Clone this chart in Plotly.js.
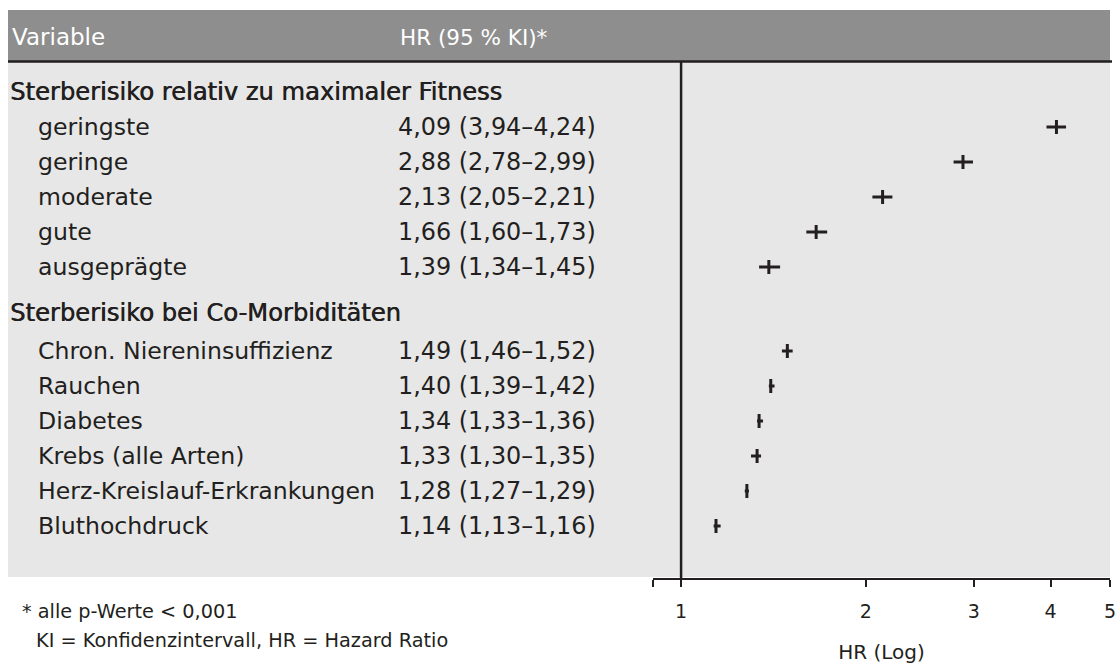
<!DOCTYPE html>
<html>
<head>
<meta charset="utf-8">
<script src="https://cdn.plot.ly/plotly-3.0.1.min.js"></script>
<style>html,body{margin:0;padding:0;background:#fff;}#chart{width:1119px;height:669px;}</style>
</head>
<body>
<div id="chart"></div>
<script>
// ---- data ----
var sectionTitles = ['Sterberisiko relativ zu maximaler Fitness', 'Sterberisiko bei Co-Morbiditäten'];
var fitnessLabels = ['geringste', 'geringe', 'moderate', 'gute', 'ausgeprägte'];
var fitnessHR     = [4.09, 2.88, 2.13, 1.66, 1.39];
var fitnessLow    = [3.94, 2.78, 2.05, 1.60, 1.34];
var fitnessHigh   = [4.24, 2.99, 2.21, 1.73, 1.45];
var comorbLabels  = ['Chron. Niereninsuffizienz', 'Rauchen', 'Diabetes', 'Krebs (alle Arten)', 'Herz-Kreislauf-Erkrankungen', 'Bluthochdruck'];
var comorbHR      = [1.49, 1.40, 1.34, 1.33, 1.28, 1.14];
var comorbLow     = [1.46, 1.39, 1.33, 1.30, 1.27, 1.13];
var comorbHigh    = [1.52, 1.42, 1.36, 1.35, 1.29, 1.16];
var tickValues    = [0.9, 1, 2, 3, 4, 5];
var tickLabels    = ['', '1', '2', '3', '4', '5'];
var headerCols    = ['Variable', 'HR (95 % KI)*'];
var footnotes     = ['* alle p-Werte < 0,001', 'KI = Konfidenzintervall, HR = Hazard Ratio'];
var axisTitle     = 'HR (Log)';

// ---- layout helpers ----
var W = 1119, H = 669;
var FONT = 'DejaVu Sans, sans-serif';
var INK = '#231f20';
function px(x){ return x / W; }
function py(y){ return 1 - y / H; }
var rowStep = 35, row0 = 92, plotTop = 62, plotBot = 578;
function fmt(v){ return v.toFixed(2).replace('.', ','); }

var sec1Row = 0;
var fitRows = fitnessLabels.map(function(_, i){ return 1 + i; });
var sec2Row = 6.3;
var comRows = comorbLabels.map(function(_, i){ return 7.4 + i; });

var traces = [];
function addGroup(hr, lo, hi, rows){
  traces.push({
    type: 'scatter', mode: 'markers',
    x: hr, y: rows,
    marker: {symbol: 'line-ns-open', size: 10, color: INK, line: {width: 3, color: INK}},
    error_x: {type: 'data', symmetric: false,
      array: hi.map(function(h, i){ return h - hr[i]; }),
      arrayminus: lo.map(function(l, i){ return hr[i] - l; }),
      width: 0, thickness: 3, color: INK},
    hoverinfo: 'skip', showlegend: false, cliponaxis: false
  });
}
addGroup(fitnessHR, fitnessLow, fitnessHigh, fitRows);
addGroup(comorbHR, comorbLow, comorbHigh, comRows);

var ann = [];
function txt(text, x, y, yref, size, color, shadow){
  var f = {family: FONT, size: size, color: color || INK};
  if (shadow) f.shadow = shadow;
  ann.push({text: text, xref: 'paper', x: px(x), yref: yref, y: y, xanchor: 'left', yanchor: 'middle',
    showarrow: false, font: f});
}
var S = 23.6, SH = 24.2, SN = 23.9;
var heavy = '0.6px 0px 0px ' + INK;
txt(headerCols[0], 10, py(37), 'paper', 23, '#ffffff');
txt(headerCols[1], 398, py(37), 'paper', 21.5, '#ffffff');
txt(sectionTitles[0], 8, sec1Row, 'y', SH, INK, heavy);
txt(sectionTitles[1], 8, sec2Row, 'y', SH, INK, heavy);
fitnessLabels.forEach(function(l, i){
  txt(l, 36, fitRows[i], 'y', S);
  txt(fmt(fitnessHR[i]) + ' (' + fmt(fitnessLow[i]) + '–' + fmt(fitnessHigh[i]) + ')', 396, fitRows[i], 'y', SN);
});
comorbLabels.forEach(function(l, i){
  txt(l, 36, comRows[i], 'y', S);
  txt(fmt(comorbHR[i]) + ' (' + fmt(comorbLow[i]) + '–' + fmt(comorbHigh[i]) + ')', 396, comRows[i], 'y', SN);
});
txt(footnotes[0], 20, py(611), 'paper', 19.3);
txt(footnotes[1], 34, py(640), 'paper', 19.3);

var layout = {
  width: W, height: H,
  margin: {l: 0, r: 0, t: 0, b: 0},
  paper_bgcolor: '#ffffff', plot_bgcolor: 'rgba(0,0,0,0)',
  font: {family: FONT, color: INK},
  showlegend: false,
  xaxis: {
    type: 'log', range: [Math.log10(0.9), Math.log10(5)],
    domain: [px(653), px(1110)], anchor: 'y',
    tickvals: tickValues, ticktext: tickLabels,
    ticks: 'outside', ticklen: 7, tickwidth: 2, tickcolor: INK,
    showline: true, linecolor: INK, linewidth: 2,
    showgrid: false, zeroline: false,
    tickfont: {family: FONT, size: 19, color: INK},
    ticklabelstandoff: 8,
    title: {text: axisTitle, font: {family: FONT, size: 20, color: INK}, standoff: 24},
    fixedrange: true
  },
  yaxis: {
    domain: [py(plotBot), py(plotTop)],
    range: [(plotBot - row0) / rowStep, (plotTop - row0) / rowStep],
    visible: false, fixedrange: true
  },
  shapes: [
    {type: 'rect', xref: 'paper', yref: 'paper', x0: px(8), x1: px(1110), y0: py(61), y1: py(10),
      fillcolor: '#8e8e8e', line: {width: 0}, layer: 'below'},
    {type: 'rect', xref: 'paper', yref: 'paper', x0: px(8), x1: px(1110), y0: py(577), y1: py(62),
      fillcolor: '#e7e7e7', line: {width: 0}, layer: 'below'},
    {type: 'line', xref: 'paper', yref: 'paper', x0: px(8), x1: px(1112), y0: py(61.5), y1: py(61.5),
      line: {color: INK, width: 2.5}},
    {type: 'line', xref: 'x', yref: 'paper', x0: 1, x1: 1, y0: py(plotBot), y1: py(plotTop),
      line: {color: INK, width: 2.5}}
  ],
  annotations: ann
};

Plotly.newPlot('chart', traces, layout, {displayModeBar: false, staticPlot: true});
</script>
</body>
</html>
